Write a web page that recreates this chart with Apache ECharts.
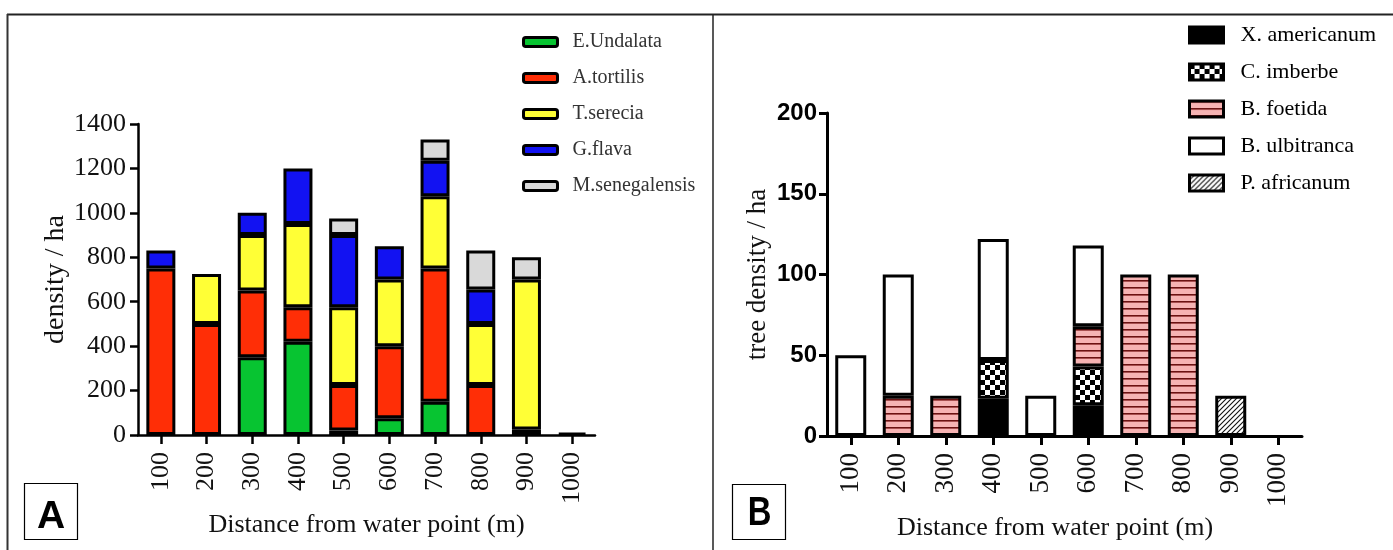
<!DOCTYPE html>
<html><head><meta charset="utf-8">
<script src="https://cdn.jsdelivr.net/npm/echarts@6/dist/echarts.min.js"></script>
<style>html,body{margin:0;padding:0;background:#fff}#c{width:1393px;height:550px}</style>
</head><body><div id="c"></div>
<script>
// ---------- data ----------
const categories = ['100','200','300','400','500','600','700','800','900','1000'];
// Panel A (density / ha)
const namesA = ['E.Undalata','A.tortilis','T.serecia','G.flava','M.senegalensis'];
const eUndalata     = [0,   0,   350, 420, 20,  75,  150, 0,   0,   0];
const aTortilis     = [750, 500, 300, 155, 205, 325, 600, 225, 25,  0];
const tSerecia      = [0,   225, 250, 375, 350, 300, 325, 275, 675, 0];
const gFlava        = [80,  0,   100, 250, 325, 150, 160, 155, 0,   0];
const mSenegalensis = [0,   0,   0,   0,   75,  0,   95,  175, 100, 10];
const yTicksA = {min: 0, max: 1400, interval: 200};
// Panel B (tree density / ha)
const namesB = ['X. americanum','C. imberbe','B. foetida','B. ulbitranca','P. africanum'];
const xAmericanum = [0,  0,  0,  23, 0,  19, 0,   0,   0,  0];
const cImberbe    = [0,  0,  0,  24, 0,  24, 0,   0,   0,  0];
const bFoetida    = [0,  25, 25, 0,  0,  25, 100, 100, 0,  0];
const bUlbitranca = [50, 75, 0,  75, 25, 50, 0,   0,   0,  0];
const pAfricanum  = [0,  0,  0,  0,  0,  0,  0,   0,   25, 0];
const yTicksB = {min: 0, max: 200, interval: 50};

// ---------- patterns ----------
function makePattern(w, h, draw) {
  const c = document.createElement('canvas');
  c.width = w; c.height = h;
  draw(c.getContext('2d'), w, h);
  return {image: c, repeat: 'repeat'};
}
const stripePat = makePattern(8, 7, (g, w, h) => {
  g.fillStyle = '#f6b3b3'; g.fillRect(0, 0, w, h);
  g.fillStyle = '#6a1212'; g.fillRect(0, 0, w, 1);
  g.fillStyle = '#a85050'; g.fillRect(0, 1, w, 1);
});
const checkerPat = makePattern(10, 10, (g) => {
  g.fillStyle = '#fff'; g.fillRect(0, 0, 10, 10);
  g.fillStyle = '#000'; g.fillRect(0, 0, 5, 5); g.fillRect(5, 5, 5, 5);
});
const hatchPat = makePattern(5, 5, (g) => {
  g.fillStyle = '#fff'; g.fillRect(0, 0, 5, 5);
  g.strokeStyle = '#111'; g.lineWidth = 1.1;
  g.beginPath();
  g.moveTo(0, 5); g.lineTo(5, 0);
  g.moveTo(-1, 1); g.lineTo(1, -1);
  g.moveTo(4, 6); g.lineTo(6, 4);
  g.stroke();
});

const serif = 'Liberation Serif';
const colorsA = ['#07c431', '#ff2e06', '#ffff36', '#1212f2', '#d9d9d9'];
const dataA = [eUndalata, aTortilis, tSerecia, gFlava, mSenegalensis];
const fillsB = ['#000000', checkerPat, stripePat, '#ffffff', hatchPat];
const dataB = [xAmericanum, cImberbe, bFoetida, bUlbitranca, pAfricanum];
const nz = arr => arr.map(v => v === 0 ? '-' : v);

const seriesA = namesA.map((n, i) => ({
  type: 'bar', name: n, stack: 'A', xAxisIndex: 0, yAxisIndex: 0,
  barWidth: 29, data: nz(dataA[i]), silent: true,
  itemStyle: {color: colorsA[i], borderColor: '#000', borderWidth: 3}
}));
const seriesB = namesB.map((n, i) => ({
  type: 'bar', name: n, stack: 'B', xAxisIndex: 1, yAxisIndex: 1,
  barWidth: 31, data: nz(dataB[i]), silent: true,
  itemStyle: {color: fillsB[i], borderColor: '#000', borderWidth: 3}
}));

const axisLine = w => ({show: true, lineStyle: {color: '#000', width: w}});
const axisTick = (w, len) => ({show: true, length: len, lineStyle: {color: '#000', width: w}});
const plain = v => String(v);

const option = {
  animation: false,
  backgroundColor: '#fff',
  grid: [
    {left: 138, top: 124, width: 457, height: 311, containLabel: false, outerBoundsMode: 'none'},
    {left: 827, top: 113, width: 475, height: 323, containLabel: false, outerBoundsMode: 'none'}
  ],
  legend: [
    {data: namesA, orient: 'vertical', left: 517, top: 27, itemWidth: 34, itemHeight: 9,
     itemGap: 16, icon: 'roundRect', selectedMode: false,
     itemStyle: {borderColor: '#000', borderWidth: 3},
     textStyle: {fontFamily: serif, fontSize: 20, color: '#333', padding: [0, 0, 0, 10]}},
    {data: namesB, orient: 'vertical', left: 1183, top: 19, itemWidth: 34, itemHeight: 16,
     itemGap: 15, icon: 'rect', selectedMode: false,
     itemStyle: {borderColor: '#000', borderWidth: 3},
     textStyle: {fontFamily: serif, fontSize: 22, color: '#000', padding: [0, 0, 0, 12]}}
  ],
  xAxis: [
    {type: 'category', gridIndex: 0, data: categories, boundaryGap: true,
     axisLine: axisLine(2.5), axisTick: Object.assign(axisTick(2.5, 9), {alignWithLabel: true}),
     axisLabel: {rotate: 90, interval: 0, margin: 17, fontFamily: serif, fontSize: 26, color: '#111'},
     name: 'Distance from water point (m)', nameLocation: 'middle', nameGap: 76,
     nameTextStyle: {fontFamily: serif, fontSize: 26, color: '#111'}},
    {type: 'category', gridIndex: 1, data: categories, boundaryGap: true,
     axisLine: axisLine(3), axisTick: Object.assign(axisTick(3, 9), {alignWithLabel: true}),
     axisLabel: {rotate: 90, interval: 0, margin: 17, fontFamily: serif, fontSize: 27, color: '#111'},
     name: 'Distance from water point (m)', nameLocation: 'middle', nameGap: 76,
     nameTextStyle: {fontFamily: serif, fontSize: 26, color: '#111', padding: [0, 19, 0, 0]}}
  ],
  yAxis: [
    {type: 'value', gridIndex: 0, min: yTicksA.min, max: yTicksA.max, interval: yTicksA.interval,
     axisLine: axisLine(2.5), axisTick: axisTick(2.5, 8), splitLine: {show: false},
     axisLabel: {margin: 12, fontFamily: serif, fontSize: 26, color: '#111', formatter: plain},
     name: 'density / ha', nameLocation: 'middle', nameGap: 57, nameRotate: 90,
     nameTextStyle: {fontFamily: serif, fontSize: 28, color: '#111'}},
    {type: 'value', gridIndex: 1, min: yTicksB.min, max: yTicksB.max, interval: yTicksB.interval,
     axisLine: axisLine(3), axisTick: axisTick(3, 8), splitLine: {show: false},
     axisLabel: {margin: 10, fontFamily: 'Liberation Sans', fontWeight: 'bold', fontSize: 24, color: '#000', formatter: plain},
     name: 'tree density / ha', nameLocation: 'middle', nameGap: 56, nameRotate: 90,
     nameTextStyle: {fontFamily: serif, fontSize: 27, color: '#111'}}
  ],
  series: seriesA.concat(seriesB),
  graphic: [
    {type: 'line', shape: {x1: 7, y1: 14.5, x2: 1393, y2: 14.5}, style: {stroke: '#222', lineWidth: 2}},
    {type: 'line', shape: {x1: 7.5, y1: 14, x2: 7.5, y2: 550}, style: {stroke: '#333', lineWidth: 2}},
    {type: 'line', shape: {x1: 713, y1: 14, x2: 713, y2: 550}, style: {stroke: '#222', lineWidth: 1.5}},
    {type: 'rect', shape: {x: 24.5, y: 483.5, width: 53, height: 56}, style: {fill: '#fff', stroke: '#000', lineWidth: 1.2}},
    {type: 'text', x: 51, y: 517, style: {text: 'A', font: 'bold 39px "Liberation Sans"', align: 'center', verticalAlign: 'middle', fill: '#000'}},
    {type: 'rect', shape: {x: 732.5, y: 484.5, width: 53, height: 55}, style: {fill: '#fff', stroke: '#000', lineWidth: 1.2}},
    {type: 'text', x: 759.5, y: 514, scaleX: 0.82,
     style: {text: 'B', font: 'bold 40px "Liberation Sans"', align: 'center', verticalAlign: 'middle', fill: '#000'}}
  ]
};
const chart = echarts.init(document.getElementById('c'), null, {renderer: 'canvas'});
chart.setOption(option);
</script>
</body></html>
